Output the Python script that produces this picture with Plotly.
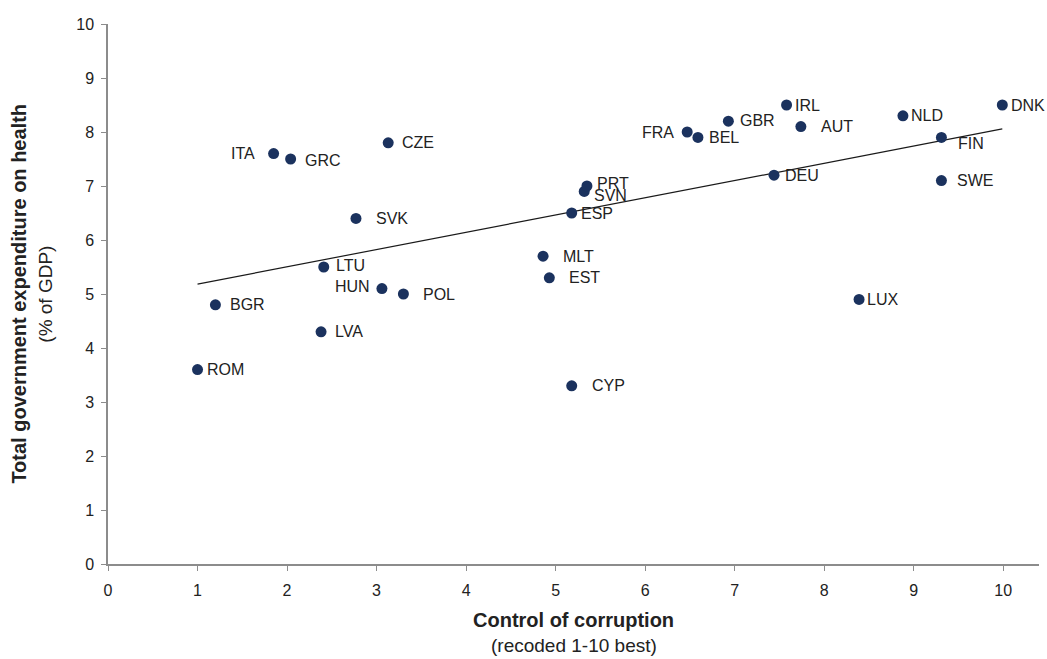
import numpy as np
import plotly.graph_objects as go

# Country codes, control-of-corruption score and health spending (% of GDP)
countries = ["ROM", "BGR", "ITA", "GRC", "LVA", "LTU", "SVK", "CZE", "HUN", "POL",
             "MLT", "EST", "CYP", "ESP", "SVN", "PRT", "FRA", "BEL", "GBR", "IRL",
             "AUT", "DEU", "NLD", "FIN", "SWE", "DNK", "LUX"]
corruption = [1.0, 1.2, 1.85, 2.04, 2.38, 2.41, 2.77, 3.13, 3.06, 3.30,
              4.86, 4.93, 5.18, 5.18, 5.32, 5.35, 6.47, 6.59, 6.93, 7.58,
              7.74, 7.44, 8.88, 9.31, 9.31, 9.99, 8.39]
health_exp = [3.6, 4.8, 7.6, 7.5, 4.3, 5.5, 6.4, 7.8, 5.1, 5.0,
              5.7, 5.3, 3.3, 6.5, 6.9, 7.0, 8.0, 7.9, 8.2, 8.5,
              8.1, 7.2, 8.3, 7.9, 7.1, 8.5, 4.9]

x_ticks = list(range(0, 11))
y_ticks = list(range(0, 11))

FONT = "Liberation Sans, Arial, sans-serif"

# Label placement in pixels: (x shift, y shift, anchor side)
label_offsets = {
    "ROM": (7, 0, "left"), "BGR": (13, 0, "left"), "ITA": (-17, 0, "right"),
    "GRC": (12, 1, "left"), "LVA": (12, 0, "left"), "LTU": (10, -2, "left"),
    "SVK": (18, 0, "left"), "CZE": (12, 0, "left"), "HUN": (-10, -2, "right"),
    "POL": (18, 0, "left"), "MLT": (18, 0, "left"), "EST": (18, 0, "left"),
    "CYP": (18, 0, "left"), "ESP": (7, 0, "left"), "SVN": (8, 4, "left"),
    "PRT": (8, -3, "left"), "FRA": (-11, 0, "right"), "BEL": (9, 0, "left"),
    "GBR": (10, -1, "left"), "IRL": (6, 0, "left"), "AUT": (18, 0, "left"),
    "DEU": (9, 0, "left"), "NLD": (6, 0, "left"), "FIN": (15, 6, "left"),
    "SWE": (14, 0, "left"), "DNK": (7, 0, "left"), "LUX": (6, 0, "left"),
}

# Least-squares trend line across the observed range
slope, intercept = np.polyfit(corruption, health_exp, 1)
trend_x = np.array([min(corruption), max(corruption)])
trend_y = slope * trend_x + intercept

fig = go.Figure()
fig.add_trace(go.Scatter(x=trend_x, y=trend_y, mode="lines",
                         line=dict(color="#1a1a1a", width=1.2),
                         hoverinfo="skip", showlegend=False))
fig.add_trace(go.Scatter(x=corruption, y=health_exp, mode="markers",
                         marker=dict(color="#1b325e", size=11),
                         text=countries, showlegend=False))

for c, xv, yv in zip(countries, corruption, health_exp):
    dx, dy, side = label_offsets[c]
    fig.add_annotation(x=xv, y=yv, text=c, showarrow=False,
                       xanchor=side, yanchor="middle",
                       xshift=dx, yshift=-dy,
                       font=dict(family=FONT, size=16, color="#222222"))

# Axis titles
fig.add_annotation(xref="paper", yref="paper", x=-0.096, y=0.5,
                   text="<b>Total government expenditure on health</b>",
                   textangle=-90, showarrow=False, xanchor="center", yanchor="middle",
                   font=dict(family=FONT, size=20, color="#222222"))
fig.add_annotation(xref="paper", yref="paper", x=-0.068, y=0.5,
                   text="(% of GDP)",
                   textangle=-90, showarrow=False, xanchor="center", yanchor="middle",
                   font=dict(family=FONT, size=19, color="#222222"))
fig.add_annotation(xref="paper", yref="paper", x=0.5, y=-0.104,
                   text="<b>Control of corruption</b>",
                   showarrow=False, xanchor="center", yanchor="middle",
                   font=dict(family=FONT, size=20, color="#222222"))
fig.add_annotation(xref="paper", yref="paper", x=0.5, y=-0.150,
                   text="(recoded 1-10 best)",
                   showarrow=False, xanchor="center", yanchor="middle",
                   font=dict(family=FONT, size=19, color="#222222"))

axis_style = dict(showgrid=False, zeroline=False, showline=True, linecolor="#8c8c8c",
                  linewidth=1.5, ticks="outside", ticklen=5, tickcolor="#8c8c8c",
                  tickfont=dict(family=FONT, size=16, color="#222222"))

fig.update_xaxes(range=[0, 10.4], tickvals=x_ticks, ticktext=[str(t) for t in x_ticks],
                 ticklabelstandoff=6, **axis_style)
fig.update_yaxes(range=[0, 10], tickvals=y_ticks, ticktext=[str(t) for t in y_ticks],
                 ticklabelstandoff=4, **axis_style)

fig.update_layout(width=1047, height=659,
                  margin=dict(l=108, r=8, t=24, b=95),
                  plot_bgcolor="white", paper_bgcolor="white",
                  font=dict(family=FONT))

fig.write_html("out.html")
